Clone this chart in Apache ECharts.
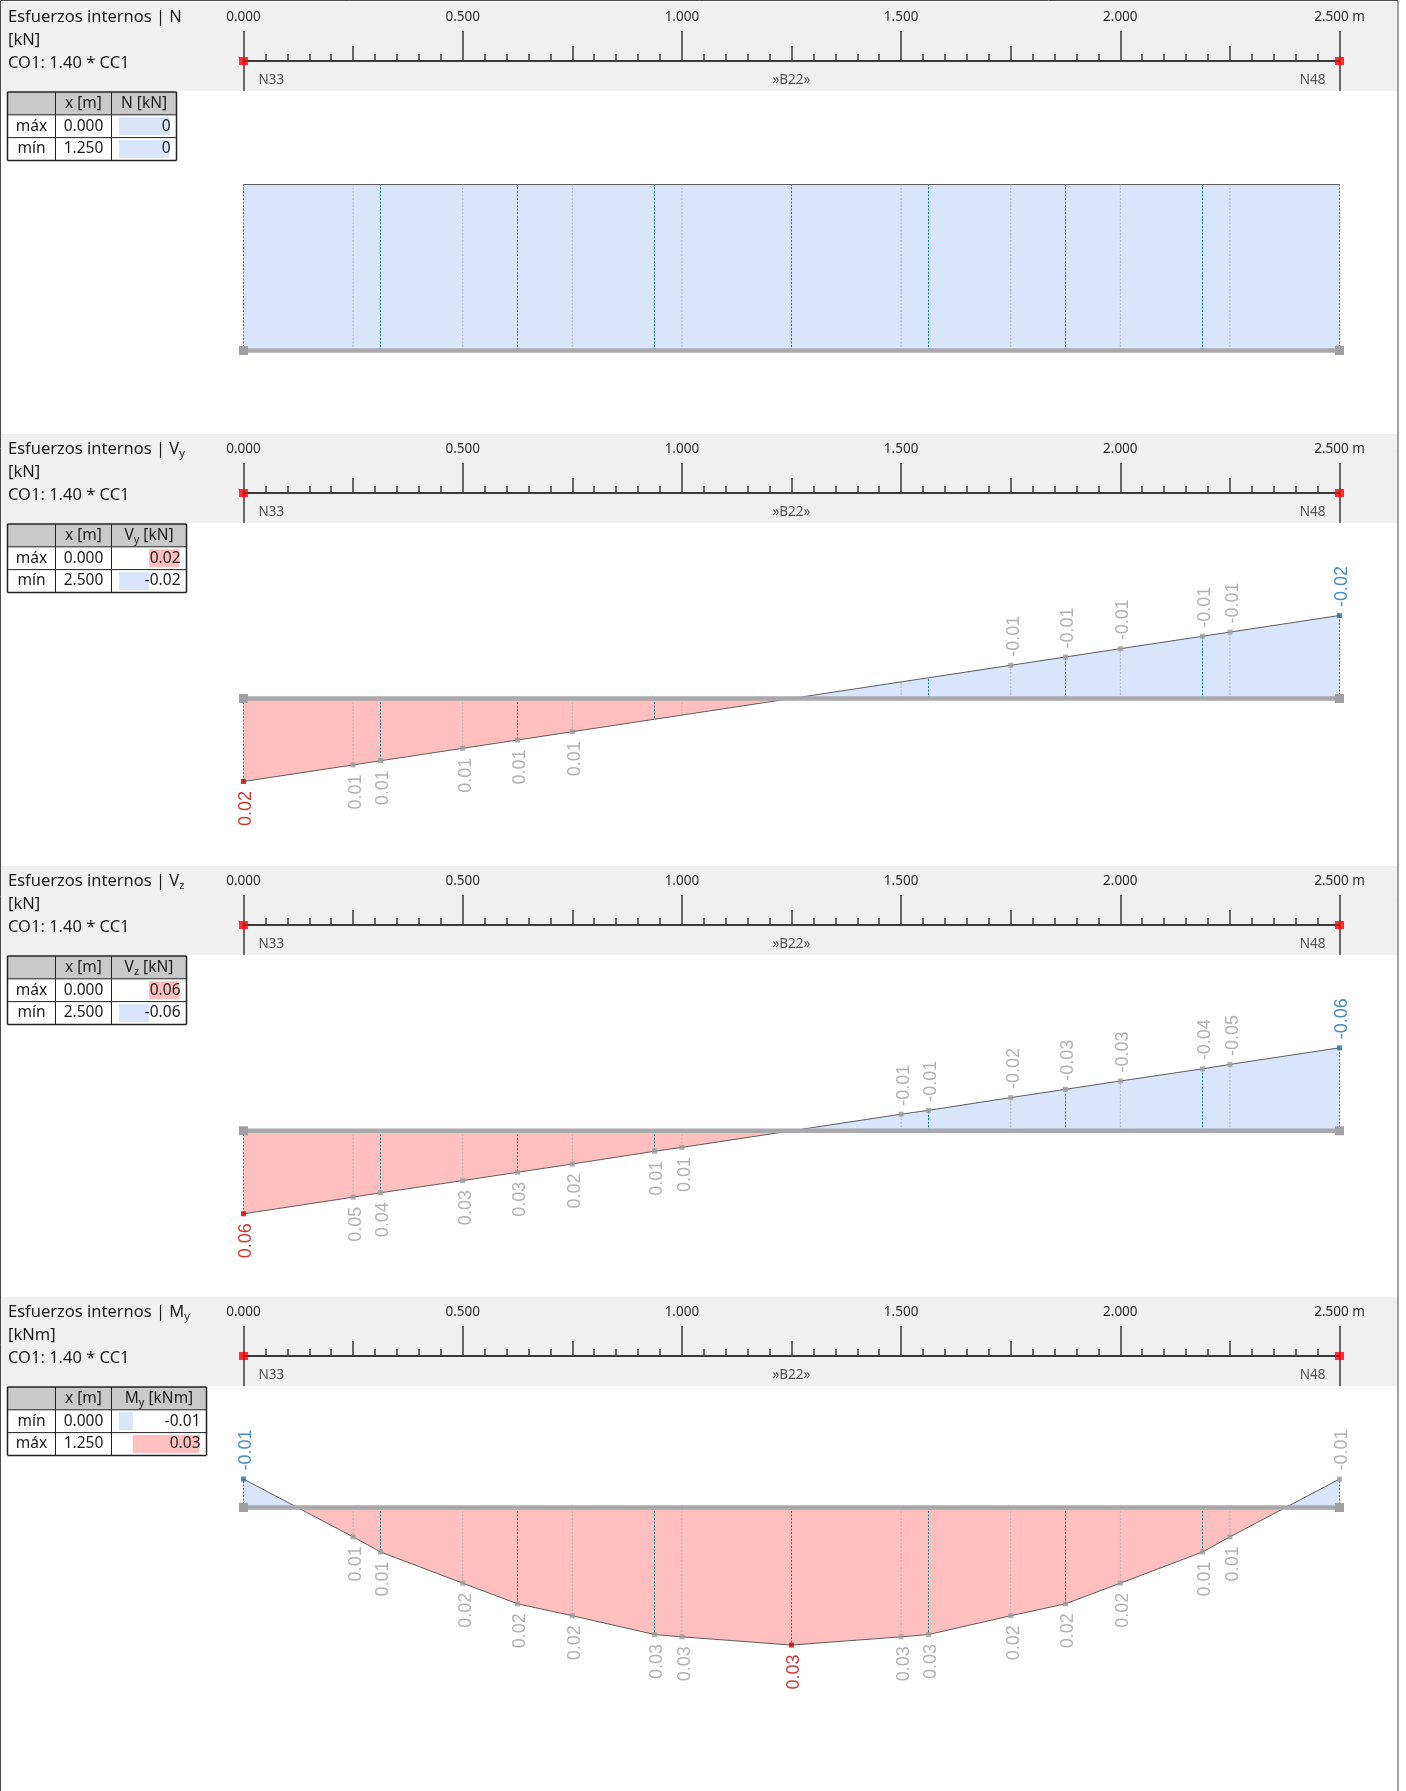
<!DOCTYPE html>
<html lang="es">
<head>
<meta charset="utf-8">
<title>Esfuerzos internos - B22</title>
<script src="https://cdn.jsdelivr.net/npm/echarts@6.0.0/dist/echarts.min.js"></script>
<style>
  html, body { margin: 0; padding: 0; background: #fff; }
  #chart { width: 1406px; height: 1791px; }
</style>
</head>
<body>
<div id="chart"></div>
<script>
// stations along the member [m]
const stations = [0, 0.25, 0.3125, 0.5, 0.625, 0.75, 0.9375, 1.0, 1.25, 1.5, 1.5625, 1.75, 1.875, 2.0, 2.1875, 2.25, 2.5];
// 1 = mesh division (teal dotted), 0 = result division (grey dotted)
const stationKinds = [1, 0, 1, 0, 1, 0, 1, 0, 1, 0, 1, 0, 1, 0, 1, 0, 1];

// internal forces at each station
const nValues = [-0.000001, -0.000001, -0.000001, -0.000001, -0.000001, -0.000001, -0.000001, -0.000001, -0.000001,
                 -0.000001, -0.000001, -0.000001, -0.000001, -0.000001, -0.000001, -0.000001, -0.000001];
const vyValues = [0.018, 0.0144, 0.0135, 0.0108, 0.009, 0.0072, 0.0045, 0.0036, 0, -0.0036, -0.0045, -0.0072, -0.009, -0.0108, -0.0135, -0.0144, -0.018];
const vzValues = [0.058, 0.0464, 0.0433, 0.0348, 0.029, 0.0232, 0.0143, 0.0116, 0, -0.0116, -0.0143, -0.0232, -0.029, -0.0348, -0.0433, -0.0464, -0.058];
const myValues = [-0.0062, 0.0064, 0.0097, 0.0165, 0.021, 0.0236, 0.0277, 0.0282, 0.03, 0.0282, 0.0277, 0.0236, 0.021, 0.0165, 0.0097, 0.0064, -0.0062];

// ruler
const rulerLabels = ['0.000', '0.500', '1.000', '1.500', '2.000', '2.500 m'];
const nodeNames = ['N33', '»B22»', 'N48'];
const nodeX = [0, 1.25, 2.5];

// summary tables
const nTableRows = ['máx', 'mín'];
const nTableX = ['0.000', '1.250'];
const nTableV = [0, 0];
const vyTableRows = ['máx', 'mín'];
const vyTableX = ['0.000', '2.500'];
const vyTableV = [0.018, -0.018];
const vzTableRows = ['máx', 'mín'];
const vzTableX = ['0.000', '2.500'];
const vzTableV = [0.058, -0.058];
const myTableRows = ['mín', 'máx'];
const myTableX = ['0.000', '1.250'];
const myTableV = [-0.0062, 0.03];

const panels = [
  { title: 'Esfuerzos internos | N', unit: '[kN]', head: 'N [kN]', values: nValues,
    rows: nTableRows, tx: nTableX, tv: nTableV, dec: 0 },
  { title: 'Esfuerzos internos | V{s|y}', unit: '[kN]', head: 'V{s|y} [kN]', values: vyValues,
    rows: vyTableRows, tx: vyTableX, tv: vyTableV, dec: 2 },
  { title: 'Esfuerzos internos | V{s|z}', unit: '[kN]', head: 'V{s|z} [kN]', values: vzValues,
    rows: vzTableRows, tx: vzTableX, tv: vzTableV, dec: 2 },
  { title: 'Esfuerzos internos | M{s|y}', unit: '[kNm]', head: 'M{s|y} [kNm]', values: myValues,
    rows: myTableRows, tx: myTableX, tv: myTableV, dec: 2 }
];

// layout
const PANEL_TOP = [2, 434, 866, 1297];
const BEAM_Y = [350.5, 698.5, 1130.8, 1507.5];
const COL3_W = [65, 75, 75, 95];
const HEAD_H = 89;
const DIAG_H = 166;
const X0 = 243.5, XW = 1096;
const ROW_H = 22.8;

const UI_FONT = '"Noto Sans", "Open Sans", sans-serif';
const NUM_FONT = '"Liberation Sans", Arial, sans-serif';
const PINK = '#ffbfbf', BLUE = '#d9e5fb';
const TEAL = '#0d8a8c', DOT_GREY = '#b4b4b4';
const RICH = { s: { fontSize: 11, lineHeight: 9, verticalAlign: 'bottom', fontFamily: UI_FONT, fill: '#1b1b1b' } };

const grid = [], xAxis = [], yAxis = [], series = [], graphic = [];

function addText(x, y, text, extra) {
  graphic.push({
    type: 'text', x: x, y: y, z: 30, silent: true,
    style: Object.assign({
      text: text, fontFamily: UI_FONT, fontSize: 15.5, lineHeight: 20, fill: '#1b1b1b',
      align: 'left', verticalAlign: 'middle', rich: RICH
    }, extra || {})
  });
}
function addLine(x1, y1, x2, y2, w) {
  graphic.push({ type: 'line', z: 25, silent: true, shape: { x1: x1, y1: y1, x2: x2, y2: y2 },
    style: { stroke: '#202020', lineWidth: w || 1 } });
}

panels.forEach((p, i) => {
  const top = PANEL_TOP[i];
  const beamY = BEAM_Y[i];
  const vals = p.values;
  const vMin = Math.min(0, ...vals), vMax = Math.max(0, ...vals);
  const gTop = beamY - (0 - vMin) / (vMax - vMin) * DIAG_H;

  // header band and titles
  graphic.push({ type: 'rect', z: -10, silent: true, shape: { x: 1, y: top, width: 1397, height: HEAD_H },
    style: { fill: '#f0f0f0' } });
  addText(8, top + 15, p.title, { fontSize: 16.5 });
  addText(8, top + 38.5, p.unit, { fontSize: 16.5 });
  addText(8, top + 61.5, 'CO1: 1.40 * CC1', { fontSize: 16.5 });

  // ruler
  const gR = grid.length;
  grid.push({ left: X0, width: XW, top: top + 59, height: 0, containLabel: false, outerBoundsMode: 'none' });
  const axA = xAxis.length;
  const tickStyle = { color: '#3a3a3a', width: 1.5 };
  xAxis.push({ gridIndex: gR, type: 'value', min: 0, max: 2.5, interval: 0.25, position: 'top',
    axisLine: { show: true, onZero: false, lineStyle: { color: '#3a3a3a', width: 2 } },
    axisTick: { show: true, length: 15, lineStyle: tickStyle },
    minorTick: { show: true, splitNumber: 5, length: 7, lineStyle: tickStyle },
    axisLabel: { show: false }, splitLine: { show: false }, minorSplitLine: { show: false } });
  xAxis.push({ gridIndex: gR, type: 'value', min: 0, max: 2.5, interval: 0.5, position: 'top',
    axisLine: { show: false, onZero: false },
    axisTick: { show: true, length: 30, lineStyle: tickStyle },
    axisLabel: { show: true, margin: 37, fontSize: 13.5, color: '#2a2a2a', fontFamily: UI_FONT,
      formatter: v => rulerLabels[Math.round(v / 0.5)] },
    splitLine: { show: false } });
  xAxis.push({ gridIndex: gR, type: 'value', min: 0, max: 2.5, interval: 2.5, position: 'bottom',
    axisLine: { show: false, onZero: false },
    axisTick: { show: true, length: 30, lineStyle: tickStyle },
    axisLabel: { show: false }, splitLine: { show: false } });
  const ayR = yAxis.length;
  yAxis.push({ gridIndex: gR, type: 'value', min: 0, max: 1, show: false });

  series.push({ type: 'scatter', xAxisIndex: axA, yAxisIndex: ayR, silent: true, z: 10,
    data: [[0, 0], [2.5, 0]], symbol: 'rect', symbolSize: [9, 8], itemStyle: { color: '#ff0000' } });
  series.push({ type: 'scatter', xAxisIndex: axA, yAxisIndex: ayR, silent: true, z: 10,
    symbolSize: 0.1, itemStyle: { color: 'transparent' },
    label: { show: true, fontSize: 13.5, fontFamily: UI_FONT, color: '#2a2a2a', verticalAlign: 'middle',
      formatter: d => d.name },
    data: nodeNames.map((n, k) => ({
      name: n, value: [nodeX[k], 0],
      label: k === 0 ? { position: [15, 19], align: 'left' }
           : k === 1 ? { position: [0, 19], align: 'center' }
           : { position: [-14, 19], align: 'right' }
    })) });

  // diagram
  const gD = grid.length;
  grid.push({ left: X0, width: XW, top: gTop, height: DIAG_H, containLabel: false, outerBoundsMode: 'none' });
  const axD = xAxis.length;
  xAxis.push({ gridIndex: gD, type: 'value', min: 0, max: 2.5, show: false });
  const ayD = yAxis.length;
  yAxis.push({ gridIndex: gD, type: 'value', min: vMin, max: vMax, inverse: true, show: false });

  // negative part above the member in blue, positive below in pink
  const f = (beamY - gTop) / DIAG_H;
  const fill = new echarts.graphic.LinearGradient(0, gTop, 0, gTop + DIAG_H, [
    { offset: 0, color: BLUE }, { offset: f, color: BLUE },
    { offset: f, color: PINK }, { offset: 1, color: PINK }
  ], true);

  const pts = stations.map((x, k) => [x, vals[k]]);
  series.push({ type: 'line', xAxisIndex: axD, yAxisIndex: ayD, data: pts, symbol: 'none', clip: false,
    lineStyle: { width: 0, opacity: 0 }, areaStyle: { opacity: 1, color: fill }, z: 1, silent: true });
  series.push({ type: 'custom', xAxisIndex: axD, yAxisIndex: ayD, z: 3, silent: true,
    data: stations.map((x, k) => [x, vals[k], stationKinds[k]]),
    renderItem: (params, api) => {
      const a = api.coord([api.value(0), 0]);
      const b = api.coord([api.value(0), api.value(1)]);
      return { type: 'line', shape: { x1: a[0], y1: a[1], x2: b[0], y2: b[1] },
        style: { stroke: api.value(2) ? TEAL : DOT_GREY, lineWidth: 1, lineDash: [2, 1.5] } };
    } });
  series.push({ type: 'line', xAxisIndex: axD, yAxisIndex: ayD, data: pts, symbol: 'none', clip: false,
    lineStyle: { color: '#5c5c5c', width: 1 }, z: 4, silent: true });
  series.push({ type: 'line', xAxisIndex: axD, yAxisIndex: ayD, data: [[0, 0], [2.5, 0]], clip: false,
    symbol: 'rect', symbolSize: 9, showSymbol: true, itemStyle: { color: '#a0a0a4' },
    lineStyle: { color: '#a9a9ad', width: 4.5 }, z: 5, silent: true });

  // station values
  let maxIdx = 0, minIdx = 0;
  vals.forEach((v, k) => { if (v > vals[maxIdx]) maxIdx = k; if (v < vals[minIdx]) minIdx = k; });
  const marks = [];
  vals.forEach((v, k) => {
    if (Math.abs(v) < 0.005) return;
    let mc = '#9c9c9c', lc = '#9d9d9d';
    if (k === maxIdx && v > 0) { mc = '#cc0000'; lc = '#cc0000'; }
    if (k === minIdx && v < 0) { mc = '#1472b0'; lc = '#1672ae'; }
    marks.push({ value: [stations[k], v], itemStyle: { color: mc },
      label: { color: lc, position: v > 0 ? 'bottom' : 'top', align: v > 0 ? 'right' : 'left',
        distance: v > 0 ? 7 : 6 } });
  });
  if (marks.length) {
    series.push({ type: 'scatter', xAxisIndex: axD, yAxisIndex: ayD, data: marks, symbol: 'rect', symbolSize: 5,
      z: 6, silent: true, clip: false,
      label: { show: true, rotate: 90, verticalAlign: 'middle', fontSize: 18, fontFamily: NUM_FONT,
        offset: [0, 3], formatter: d => d.value[1].toFixed(2) } });
  }

  // summary table
  const tTop = top + HEAD_H + 1;
  const cols = [7.5, 55.5, 111.5, 111.5 + COL3_W[i]];
  const tBot = tTop + 3 * ROW_H;
  graphic.push({ type: 'rect', z: -5, silent: true,
    shape: { x: cols[0], y: tTop, width: cols[3] - cols[0], height: ROW_H }, style: { fill: '#c9c9c9' } });
  addLine(cols[0], tTop, cols[3], tTop, 1.5);
  addLine(cols[0], tBot, cols[3], tBot, 1.5);
  addLine(cols[0], tTop, cols[0], tBot, 1.5);
  addLine(cols[3], tTop, cols[3], tBot, 1.5);
  addLine(cols[1], tTop, cols[1], tBot, 1);
  addLine(cols[2], tTop, cols[2], tBot, 1);
  addLine(cols[0], tTop + ROW_H, cols[3], tTop + ROW_H, 1);
  addLine(cols[0], tTop + 2 * ROW_H, cols[3], tTop + 2 * ROW_H, 1);
  addText((cols[1] + cols[2]) / 2, tTop + ROW_H / 2, 'x [m]', { align: 'center' });
  addText((cols[2] + cols[3]) / 2, tTop + ROW_H / 2, p.head, { align: 'center' });
  p.rows.forEach((r, k) => {
    const cy = tTop + ROW_H * (k + 1.5);
    addText((cols[0] + cols[1]) / 2, cy, r, { align: 'center' });
    addText((cols[1] + cols[2]) / 2, cy, p.tx[k], { align: 'center' });
    addText(cols[3] - 6, cy, p.dec ? p.tv[k].toFixed(p.dec) : String(Math.abs(Math.round(p.tv[k]))), { align: 'right' });
  });
  const inL = cols[2] + 7.5, inW = cols[3] - 7 - inL;
  const tMin = Math.min(0, ...p.tv), tMax = Math.max(0, ...p.tv);
  if (tMax > tMin) {
    const gT = grid.length;
    grid.push({ left: inL, width: inW, top: tTop + ROW_H, height: 2 * ROW_H, containLabel: false, outerBoundsMode: 'none' });
    const axT = xAxis.length;
    xAxis.push({ gridIndex: gT, type: 'value', min: tMin, max: tMax, show: false });
    const ayT = yAxis.length;
    yAxis.push({ gridIndex: gT, type: 'category', data: p.rows, inverse: true, show: false });
    series.push({ type: 'bar', xAxisIndex: axT, yAxisIndex: ayT, barWidth: 18, z: 2, silent: true,
      data: p.tv.map(v => ({ value: v, itemStyle: { color: v < 0 ? BLUE : PINK } })) });
  } else {
    // all-zero result: the whole value cell is highlighted
    p.tv.forEach((v, k) => {
      graphic.push({ type: 'rect', z: -5, silent: true,
        shape: { x: inL, y: tTop + ROW_H * (k + 1) + 2.4, width: inW, height: 18 }, style: { fill: BLUE } });
    });
  }
});

// outer frame
graphic.push({ type: 'rect', z: 40, silent: true, shape: { x: 0.5, y: 0.5, width: 1397.5, height: 1800 },
  style: { fill: 'none', stroke: '#4a4a4a', lineWidth: 1 } });

const chart = echarts.init(document.getElementById('chart'));
chart.setOption({
  animation: false,
  backgroundColor: '#ffffff',
  grid: grid,
  xAxis: xAxis,
  yAxis: yAxis,
  graphic: graphic,
  series: series
});
</script>
</body>
</html>
